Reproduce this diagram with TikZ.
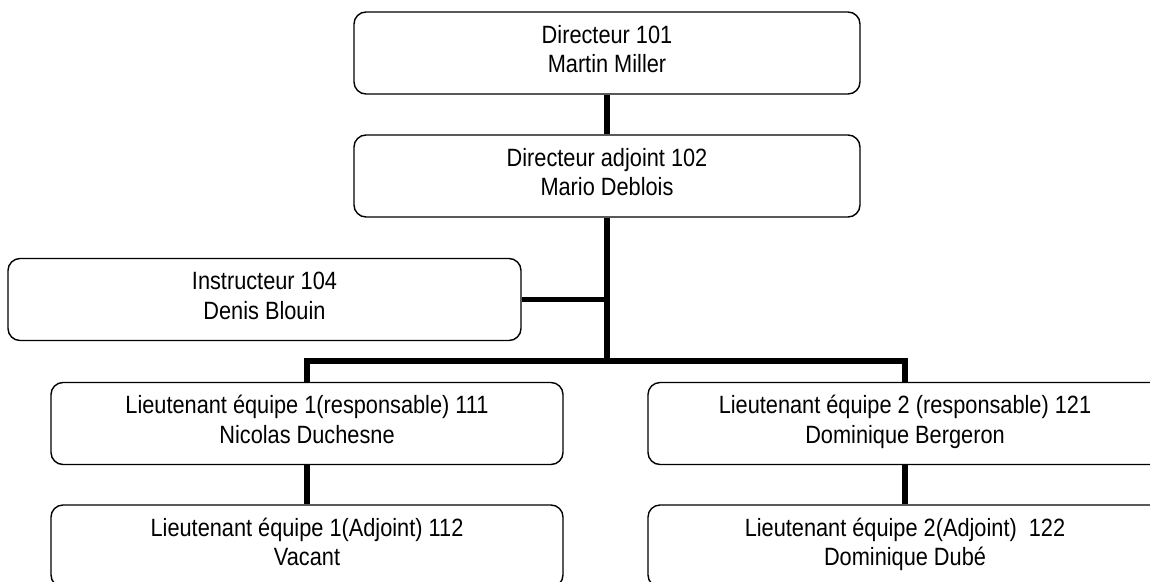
\documentclass[tikz,border=0pt]{standalone}
\usepackage{fontspec}
\setmainfont{Liberation Sans}[FakeStretch=0.87]
\newcommand{\twolines}[2]{\rule{0pt}{22pt}#1\\#2\rule[-12.5pt]{0pt}{12.5pt}}
\begin{document}
\begin{tikzpicture}[x=1pt,y=-1pt,
  orgbox/.style={draw, line width=1.4pt, rounded corners=12pt, minimum width=#1,
    minimum height=82pt, inner sep=0pt, align=center,
    font=\fontsize{25}{29.5}\selectfont},
  link/.style={line width=5.5pt, line join=miter}]
\useasboundingbox (0,0) rectangle (1150,581);
\clip (0,0) rectangle (1150,581);
\node[orgbox=506pt] (A) at (607,53) {\twolines{Directeur 101}{Martin Miller}};
\node[orgbox=506pt] (B) at (607,176) {\twolines{Directeur adjoint 102}{Mario Deblois}};
\node[orgbox=513pt] (C) at (264.5,299.5) {\twolines{Instructeur 104}{Denis Blouin}};
\node[orgbox=512pt] (D) at (307,423.5) {\twolines{Lieutenant équipe 1(responsable) 111}{Nicolas Duchesne}};
\node[orgbox=512pt] (E) at (307,546) {\twolines{Lieutenant équipe 1(Adjoint) 112}{Vacant}};
\node[orgbox=514pt] (F) at (905,423.5) {\twolines{Lieutenant équipe 2 (responsable) 121}{Dominique Bergeron}};
\node[orgbox=514pt] (G) at (905,546) {\twolines{Lieutenant équipe 2(Adjoint)\ \ 122}{Dominique Dubé}};
\coordinate (J) at (607,361);
\draw[link] (A.south) -- (B.north);
\draw[link] (B.south) -- (J);
\draw[link] (C.east) -- (C.east -| J);
\draw[link] (D.north) -- (D.north |- J) -- (F.north |- J) -- (F.north);
\draw[link] (D.south) -- (E.north);
\draw[link] (F.south) -- (G.north);
\end{tikzpicture}
\end{document}
